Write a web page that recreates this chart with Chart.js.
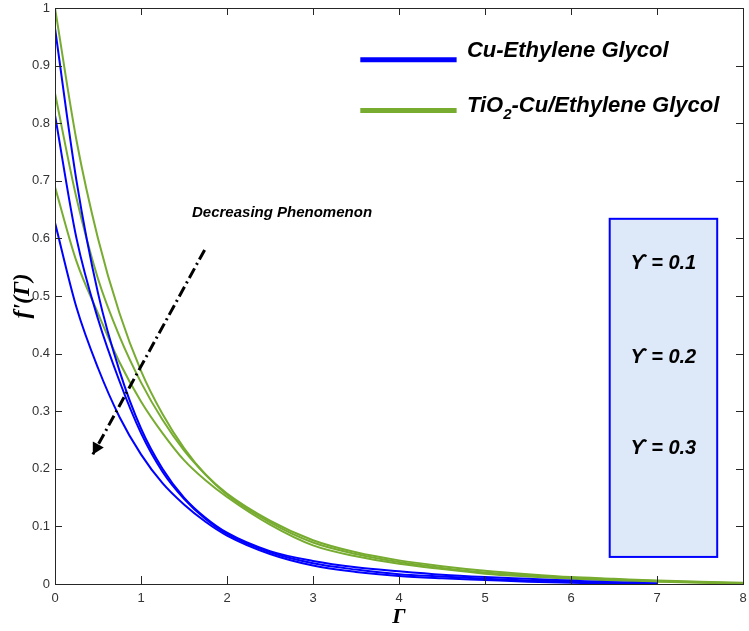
<!DOCTYPE html>
<html><head><meta charset="utf-8">
<script src="https://cdn.jsdelivr.net/npm/chart.js@4"></script>
<style>html,body{margin:0;padding:0;background:#fff}#wrap{position:relative;width:749px;height:631px}</style>
</head><body><div id="wrap"><canvas id="c" width="749" height="631"></canvas></div>
<script>
// ---- data ----
const xBlue = [0,0.25,0.5,0.75,1,1.25,1.5,1.75,2,2.5,3,3.5,4,4.5,5,5.5,6,6.5,7];
const cuEG_g01 = [0.965,0.70,0.505,0.37,0.27,0.2,0.15,0.115,0.089,0.057,0.040,0.029,0.022,0.016,0.012,0.009,0.006,0.003,0.001];
const cuEG_g02 = [0.814,0.60,0.46,0.352,0.262,0.195,0.148,0.113,0.087,0.055,0.036,0.025,0.017,0.013,0.009,0.006,0.004,0.002,0.0005];
const cuEG_g03 = [0.627,0.48,0.375,0.29,0.225,0.175,0.138,0.108,0.084,0.052,0.032,0.021,0.014,0.010,0.007,0.004,0.002,0.001,0];
const xGreen = [0,0.25,0.5,0.75,1,1.25,1.5,1.75,2,2.5,3,3.5,4,4.5,5,5.5,6,6.5,7,7.5,8];
const hyb_g01 = [1.0,0.77,0.6,0.47,0.37,0.295,0.236,0.19,0.157,0.11,0.076,0.055,0.041,0.031,0.023,0.017,0.012,0.009,0.006,0.004,0.002];
const hyb_g02 = [0.852,0.67,0.53,0.43,0.35,0.285,0.232,0.19,0.155,0.107,0.072,0.052,0.038,0.028,0.02,0.015,0.011,0.008,0.005,0.003,0.001];
const hyb_g03 = [0.689,0.56,0.47,0.385,0.317,0.262,0.215,0.18,0.151,0.103,0.067,0.048,0.035,0.026,0.018,0.013,0.009,0.006,0.004,0.002,0.001];
const legendLabels = ["Cu-Ethylene Glycol", "TiO", "2", "-Cu/Ethylene Glycol"];
const gammaLabels = ["ϒ = 0.1", "ϒ = 0.2", "ϒ = 0.3"];
const annotationText = "Decreasing Phenomenon";
const xTitle = "Γ";
const yTitle = "f'(Γ)";

const BLUE = '#0000ff', GREEN = '#77ac30', AXIS = '#262626';
function pts(xs, ys){ return xs.map((x,i)=>({x:x, y:ys[i]})); }
function ds(xs, ys, color){
  return {data: pts(xs, ys), borderColor: color, backgroundColor: color, borderWidth: 2,
          pointRadius: 0, showLine: true, tension: 0, cubicInterpolationMode: 'monotone', fill: false};
}

const decor = {
  id: 'decor',
  afterDatasetsDraw(chart){
    const ctx = chart.ctx, xs = chart.scales.x, ys = chart.scales.y, a = chart.chartArea;
    const X = v => xs.getPixelForValue(v), Y = v => ys.getPixelForValue(v);
    ctx.save();
    // frame
    ctx.strokeStyle = AXIS; ctx.lineWidth = 1;
    ctx.strokeRect(Math.round(a.left)+0.5, Math.round(a.top)+0.5, Math.round(a.right-a.left), Math.round(a.bottom-a.top));
    // inward tick marks on all four sides
    ctx.beginPath();
    xs.ticks.forEach(t => { const p = Math.round(X(t.value))+0.5;
      ctx.moveTo(p, a.bottom); ctx.lineTo(p, a.bottom-8);
      ctx.moveTo(p, a.top); ctx.lineTo(p, a.top+7); });
    ys.ticks.forEach(t => { const p = Math.round(Y(t.value))+0.5;
      ctx.moveTo(a.left, p); ctx.lineTo(a.left+7, p);
      ctx.moveTo(a.right, p); ctx.lineTo(a.right-7, p); });
    ctx.stroke();

    // legend
    ctx.lineCap = 'butt';
    ctx.lineWidth = 5; ctx.strokeStyle = BLUE;
    ctx.beginPath(); ctx.moveTo(X(3.55), Y(0.910)); ctx.lineTo(X(4.67), Y(0.910)); ctx.stroke();
    ctx.strokeStyle = GREEN;
    ctx.beginPath(); ctx.moveTo(X(3.55), Y(0.822)); ctx.lineTo(X(4.67), Y(0.822)); ctx.stroke();
    ctx.fillStyle = '#000'; ctx.textBaseline = 'alphabetic'; ctx.textAlign = 'left';
    ctx.font = 'italic bold 22px "Liberation Sans", Arial, sans-serif';
    ctx.fillText(legendLabels[0], X(4.79), Y(0.915));
    let tx = X(4.79), ty = Y(0.819);
    ctx.fillText(legendLabels[1], tx, ty); tx += ctx.measureText(legendLabels[1]).width;
    ctx.font = 'italic bold 15px "Liberation Sans", Arial, sans-serif';
    ctx.fillText(legendLabels[2], tx, ty+7); tx += ctx.measureText(legendLabels[2]).width;
    ctx.font = 'italic bold 22px "Liberation Sans", Arial, sans-serif';
    ctx.fillText(legendLabels[3], tx, ty);

    // annotation text
    ctx.font = 'italic bold 15px "Liberation Sans", Arial, sans-serif';
    ctx.fillText(annotationText, X(1.593), Y(0.637));

    // dash-dot arrow
    const x0 = X(1.74), y0 = Y(0.58), x1 = X(0.44), y1 = Y(0.225);
    ctx.strokeStyle = '#000'; ctx.lineWidth = 3;
    ctx.setLineDash([11,4,2,4]);
    ctx.beginPath(); ctx.moveTo(x0, y0); ctx.lineTo(x1, y1); ctx.stroke();
    ctx.setLineDash([]);
    const ang = Math.atan2(y1-y0, x1-x0), L = 13, W = 0.5;
    ctx.fillStyle = '#000';
    ctx.beginPath(); ctx.moveTo(x1, y1);
    ctx.lineTo(x1 - L*Math.cos(ang-W), y1 - L*Math.sin(ang-W));
    ctx.lineTo(x1 - L*Math.cos(ang+W), y1 - L*Math.sin(ang+W));
    ctx.closePath(); ctx.fill();

    // gamma box
    const bx0 = X(6.45), bx1 = X(7.70), by0 = Y(0.634), by1 = Y(0.047);
    ctx.fillStyle = '#dde8f8'; ctx.fillRect(bx0, by0, bx1-bx0, by1-by0);
    ctx.strokeStyle = BLUE; ctx.lineWidth = 2; ctx.strokeRect(bx0, by0, bx1-bx0, by1-by0);
    ctx.fillStyle = '#000'; ctx.textAlign = 'center'; ctx.textBaseline = 'middle';
    ctx.font = 'italic bold 20px "Liberation Sans", Arial, sans-serif';
    const gy = [0.557, 0.394, 0.236];
    gammaLabels.forEach((s,i) => ctx.fillText(s, (bx0+bx1)/2, Y(gy[i])));
    ctx.restore();
  }
};

new Chart(document.getElementById('c'), {
  type: 'scatter',
  data: { datasets: [
    ds(xBlue, cuEG_g01, BLUE), ds(xBlue, cuEG_g02, BLUE), ds(xBlue, cuEG_g03, BLUE),
    ds(xGreen, hyb_g01, GREEN), ds(xGreen, hyb_g02, GREEN), ds(xGreen, hyb_g03, GREEN)
  ]},
  options: {
    responsive: false, animation: false, devicePixelRatio: 1,
    layout: { padding: { top: 8, right: 6, left: 0, bottom: 0 } },
    plugins: { legend: { display: false }, tooltip: { enabled: false } },
    scales: {
      x: { type: 'linear', min: 0, max: 8, border: { display: false },
           grid: { display: false, drawTicks: false },
           ticks: { stepSize: 1, padding: 7, color: '#333', font: { family: '"Liberation Sans", Arial', size: 13 } },
           title: { display: true, text: xTitle, color: '#000', padding: { top: 0, bottom: 0 },
                    font: { family: '"Liberation Serif", "Times New Roman", serif', size: 22, style: 'italic', weight: 'bold' } },
           afterFit: s => { s.height = 47; s.paddingLeft = 0; s.paddingRight = 0; } },
      y: { type: 'linear', min: 0, max: 1, border: { display: false },
           grid: { display: false, drawTicks: false },
           ticks: { stepSize: 0.1, padding: 5, color: '#333', font: { family: '"Liberation Sans", Arial', size: 13 },
                    callback: v => String(Math.round(v*10)/10) },
           title: { display: true, text: yTitle, color: '#000', padding: { top: 8, bottom: 0 },
                    font: { family: '"Liberation Serif", "Times New Roman", serif', size: 24, style: 'italic', weight: 'bold' } },
           afterFit: s => { s.width = 55; s.paddingTop = 0; s.paddingBottom = 0; } }
    }
  },
  plugins: [decor]
});
</script></body></html>
